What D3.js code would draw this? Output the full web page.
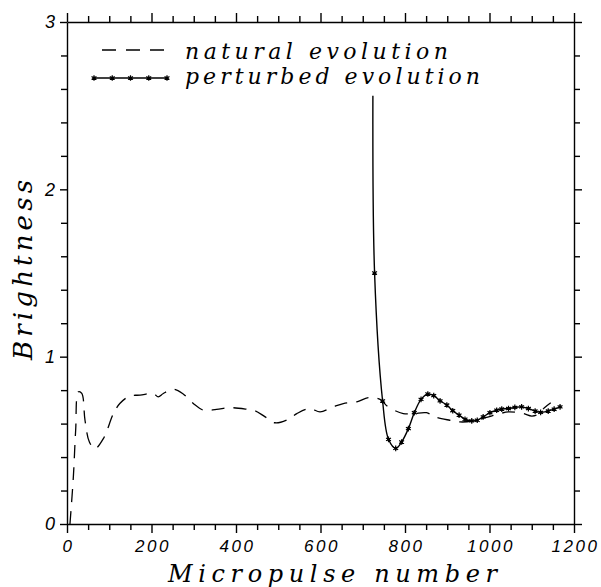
<!DOCTYPE html>
<html>
<head>
<meta charset="utf-8" />
<title>Brightness vs micropulse number</title>
<script src="https://cdn.jsdelivr.net/npm/d3@7"></script>
<style>
	body { margin: 0; background: #fff; }
	.tick text { font-family: "Liberation Sans", sans-serif; font-style: italic; font-size: 17px; letter-spacing: 2.5px; fill: #000; }
	.domain, .tick line { stroke: #000; stroke-width: 1.4px; }
</style>
</head>
<body>
<script>
// natural evolution (dashed)
var natX = [7, 15, 20.5, 27, 35, 42.6, 53, 66, 86, 110, 125, 149, 173, 204, 216, 228, 252, 275, 299, 323, 354, 386, 425, 445, 469, 492, 524, 544, 575, 599, 630, 654, 686, 713, 741, 760, 796, 820, 851, 871, 906, 930, 960, 990, 1025, 1045, 1080, 1100, 1115, 1130, 1145];
var natY = [0, 0.28, 0.56, 0.79, 0.78, 0.62, 0.49, 0.45, 0.51, 0.66, 0.72, 0.765, 0.77, 0.78, 0.76, 0.78, 0.805, 0.777, 0.72, 0.68, 0.685, 0.695, 0.686, 0.677, 0.64, 0.605, 0.626, 0.66, 0.69, 0.67, 0.70, 0.72, 0.73, 0.755, 0.745, 0.70, 0.66, 0.66, 0.665, 0.64, 0.62, 0.61, 0.615, 0.635, 0.66, 0.67, 0.66, 0.645, 0.655, 0.695, 0.725];

// perturbed evolution (solid + markers)
var pertX = [724, 728, 747, 761, 778, 792, 808, 822, 838, 854, 868, 883, 899, 913, 928, 942, 958, 971, 985, 1001, 1017, 1029, 1045, 1060, 1076, 1092, 1108, 1121, 1139, 1153, 1167];
var pertY = [2.56, 1.5, 0.735, 0.506, 0.452, 0.49, 0.57, 0.665, 0.745, 0.777, 0.767, 0.736, 0.711, 0.677, 0.651, 0.626, 0.616, 0.62, 0.64, 0.665, 0.68, 0.687, 0.69, 0.697, 0.70, 0.69, 0.675, 0.667, 0.675, 0.686, 0.70];

var xMajor = [0, 200, 400, 600, 800, 1000, 1200];
var yMajor = [0, 1, 2, 3];
var legendNames = ["natural evolution", "perturbed evolution"];

var serif = '"DejaVu Serif", "Liberation Serif", serif';

var svg = d3.select("body").append("svg")
	.attr("width", 601)
	.attr("height", 587);

var x = d3.scaleLinear().domain([0, 1200]).range([67, 574]);
var y = d3.scaleLinear().domain([0, 3]).range([524, 22]);

var xMinor = d3.range(0, 1201, 50).filter(function (d) { return d % 200 != 0; });
var yMinor = d3.range(0, 3.01, 0.2).filter(function (d) { return Math.abs(d - Math.round(d)) > 0.01; });

// ejes: minor ticks first, then major with labels
function eje(axisFn, scale, transform, minor, major, labels, big) {
	svg.append("g").attr("transform", transform)
		.call(axisFn(scale).tickValues(minor).tickSize(6).tickFormat(""))
		.select(".domain").remove();
	var g = svg.append("g").attr("transform", transform)
		.call(axisFn(scale).tickValues(major).tickSizeInner(big).tickSizeOuter(0)
			.tickFormat(labels ? d3.format("d") : ""));
	return g;
}

var gx = eje(d3.axisBottom, x, "translate(0,524)", xMinor, xMajor, true, 9);
gx.selectAll("text").attr("y", 14).attr("dy", "0.85em").attr("dx", "1px");
eje(d3.axisTop, x, "translate(0,22)", xMinor, xMajor, false, 9);
var gy = eje(d3.axisLeft, y, "translate(67,0)", yMinor, yMajor, true, 7);
gy.selectAll("text").attr("x", -12).style("letter-spacing", "0px").style("font-size", "18px");
eje(d3.axisRight, y, "translate(574,0)", yMinor, yMajor, false, 8);

// curvas
var line = d3.line()
	.x(function (d) { return x(d[0]); })
	.y(function (d) { return y(d[1]); })
	.curve(d3.curveCatmullRom.alpha(0.5));

var nat = d3.zip(natX, natY);
var pert = d3.zip(pertX, pertY);

svg.append("path")
	.datum(nat)
	.attr("d", line)
	.attr("fill", "none")
	.attr("stroke", "#000")
	.attr("stroke-width", 1.3)
	.attr("stroke-dasharray", "13,9");

svg.append("path")
	.datum(pert)
	.attr("d", line)
	.attr("fill", "none")
	.attr("stroke", "#000")
	.attr("stroke-width", 1.4);

var star = d3.symbol().type(d3.symbolAsterisk).size(22);
var dot = d3.symbol().type(d3.symbolCircle).size(8);

function marcador(g, px, py) {
	g.append("path").attr("d", star).attr("transform", "translate(" + px + "," + py + ")")
		.attr("fill", "none").attr("stroke", "#000").attr("stroke-width", 1.2);
	g.append("path").attr("d", dot).attr("transform", "translate(" + px + "," + py + ")")
		.attr("fill", "#000");
}

var gm = svg.append("g");
pert.slice(1).forEach(function (d) { marcador(gm, x(d[0]), y(d[1])); });

// leyenda
svg.append("line")
	.attr("x1", 102).attr("x2", 168).attr("y1", 50).attr("y2", 50)
	.attr("stroke", "#000").attr("stroke-width", 1.3).attr("stroke-dasharray", "14,10");
svg.append("line")
	.attr("x1", 94).attr("x2", 167).attr("y1", 78).attr("y2", 78)
	.attr("stroke", "#000").attr("stroke-width", 1.4);
[94, 112.25, 130.5, 148.75, 167].forEach(function (px) { marcador(svg, px, 78); });

function titulo(px, py, size, len, txt) {
	return svg.append("text")
		.attr("x", px).attr("y", py)
		.style("font-family", serif)
		.style("font-style", "italic")
		.style("font-size", size + "px")
		.attr("fill", "#000")
		.attr("textLength", len).attr("lengthAdjust", "spacing")
		.text(txt);
}

titulo(185, 59, 22, 263, legendNames[0]);
titulo(185, 84, 22, 295, legendNames[1]);

// titulos de ejes
titulo(168, 582, 24, 329, "Micropulse number");
titulo(0, 0, 26, 180, "Brightness")
	.attr("transform", "translate(32,360) rotate(-90)");
</script>
</body>
</html>
